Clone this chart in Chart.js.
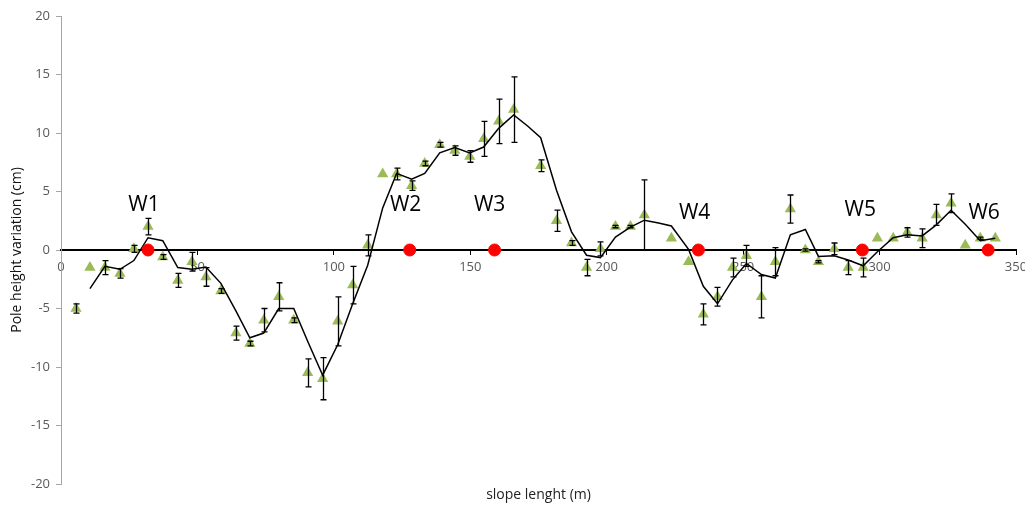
<!DOCTYPE html>
<html>
<head>
<meta charset="utf-8">
<script src="https://cdn.jsdelivr.net/npm/chart.js@4/dist/chart.umd.min.js"></script>
<style>
  html, body { margin: 0; padding: 0; background: #fff; }
  #wrap { width: 1025px; height: 505px; }
</style>
</head>
<body>
<div id="wrap"><canvas id="grafico" width="1025" height="505"></canvas></div>
<script>
/** datos de los postes (triangulos verdes) */
const poleX = [5.5, 10.6, 16.1, 21.6, 26.7, 31.9, 37.3, 42.8, 48.0, 53.1, 58.6, 64.1, 69.2, 74.3, 79.8, 85.3,
  90.4, 95.9, 101.4, 106.9, 112.4, 117.9, 123.0, 128.5, 133.3, 138.8, 144.3, 149.8, 154.9, 160.4, 165.9,
  175.8, 181.6, 187.1, 192.6, 197.7, 203.2, 208.7, 213.8, 223.7, 230.0, 235.4, 240.6, 246.1, 251.2, 256.7,
  261.8, 267.3, 272.8, 277.6, 283.4, 288.5, 294.0, 299.2, 305.0, 310.1, 315.6, 320.8, 326.2, 331.4, 336.9, 342.4]
const poleY = [-5.0, -1.5, -1.5, -2.0, 0.1, 2.0, -0.6, -2.6, -1.0, -2.3, -3.5, -7.1, -8.0, -6.0, -4.0, -6.0,
  -10.5, -11.0, -6.1, -3.0, 0.4, 6.5, 6.5, 5.5, 7.4, 9.0, 8.5, 8.0, 9.5, 11.0, 12.0,
  7.2, 2.5, 0.6, -1.5, 0.1, 2.0, 2.0, 3.0, 1.0, -1.0, -5.5, -4.0, -1.5, -0.5, -4.0,
  -1.0, 3.5, 0.0, -1.0, 0.1, -1.5, -1.5, 1.0, 1.0, 1.5, 1.0, 3.0, 4.0, 0.4, 1.0, 1.0]
const poleErr = [0.4, 0, 0.6, 0.4, 0.3, 0.7, 0.2, 0.6, 0.8, 0.8, 0.2, 0.6, 0.2, 1.0, 1.2, 0.2,
  1.2, 1.8, 2.1, 1.6, 0.9, 0, 0.5, 0.4, 0.2, 0.2, 0.4, 0.5, 1.5, 1.9, 2.8,
  0.5, 0.9, 0.2, 0.7, 0.6, 0.1, 0.1, 3.0, 0, 0, 0.9, 0.8, 0.8, 0.9, 1.8,
  1.2, 1.2, 0.1, 0.1, 0.5, 0.6, 0.8, 0, 0, 0.4, 0.8, 0.9, 0.8, 0, 0.1, 0]

/** linea negra (promedio) */
const trendX = [10.6, 16.1, 21.6, 26.7, 31.9, 37.3, 42.8, 48.0, 53.1, 58.6, 64.1, 69.2, 74.3, 79.8, 85.3,
  90.4, 95.9, 101.4, 106.9, 112.4, 117.9, 123.0, 128.5, 133.3, 138.8, 144.3, 149.8, 154.9, 160.4, 165.9,
  171.0, 175.8, 181.6, 187.1, 192.6, 197.7, 203.2, 208.7, 213.8, 219.0, 223.7, 230.0, 235.4, 240.6, 246.1,
  251.2, 256.7, 261.8, 267.3, 272.8, 277.6, 283.4, 288.5, 294.0, 299.2, 305.0, 310.1, 315.6, 320.8, 326.2,
  331.4, 336.9, 342.4]
const trendY = [-3.3, -1.4, -1.65, -0.9, 1.05, 0.8, -1.5, -1.65, -1.45, -2.85, -5.2, -7.5, -7.1, -5.0, -5.0,
  -7.8, -10.7, -8.1, -4.6, -1.3, 3.6, 6.55, 6.05, 6.55, 8.3, 8.75, 8.3, 8.8, 10.4, 11.55,
  10.6, 9.6, 5.1, 1.55, -0.45, -0.65, 1.1, 1.95, 2.55, 2.3, 2.05, 0.05, -3.1, -4.6, -2.55,
  -1.15, -2.1, -2.4, 1.3, 1.75, -0.55, -0.5, -0.85, -1.35, -0.15, 1.05, 1.3, 1.2, 2.15, 3.4,
  2.2, 0.8, 1.0]

/** puntos rojos W1..W6 */
const wLabels = ["W1", "W2", "W3", "W4", "W5", "W6"]
const wX = [31.9, 127.8, 158.9, 233.6, 293.7, 339.8]
const wY = [0, 0, 0, 0, 0, 0]
const wTextX = [30.4, 126.3, 157.1, 232.2, 292.9, 338.3]
const wTextY = [3.85, 3.85, 3.85, 3.2, 3.4, 3.2]

/** ejes */
const xTicks = [0, 50, 100, 150, 200, 250, 300, 350]
const yTicks = [-20, -15, -10, -5, 0, 5, 10, 15, 20]
const xTitle = "slope lenght (m)"
const yTitle = "Pole height variation (cm)"

function toPoints(xs, ys) {
  let a = []
  for (let i = 0; i < xs.length; i++) {
    a.push({x: xs[i], y: ys[i]})
  }
  return a
}

/** barras de error + textos W */
const extras = {
  id: 'extras',
  afterDatasetDraw: function(chart, args) {
    if (args.index !== 2) return
    const ctx = chart.ctx
    const sx = chart.scales.x
    const sy = chart.scales.y
    ctx.save()
    ctx.strokeStyle = '#000'
    ctx.lineWidth = 1.3
    for (let i = 0; i < poleX.length; i++) {
      if (!poleErr[i]) continue
      const px = Math.round(sx.getPixelForValue(poleX[i])) + 0.5
      const top = sy.getPixelForValue(poleY[i] + poleErr[i])
      const bot = sy.getPixelForValue(poleY[i] - poleErr[i])
      ctx.beginPath()
      ctx.moveTo(px, top); ctx.lineTo(px, bot)
      ctx.moveTo(px - 3, top); ctx.lineTo(px + 3, top)
      ctx.moveTo(px - 3, bot); ctx.lineTo(px + 3, bot)
      ctx.stroke()
    }
    ctx.restore()
  },
  afterDraw: function(chart) {
    const ctx = chart.ctx
    const sx = chart.scales.x
    const sy = chart.scales.y
    ctx.save()
    ctx.fillStyle = '#000'
    ctx.font = '21px "Open Sans", sans-serif'
    ctx.textAlign = 'center'
    ctx.textBaseline = 'middle'
    for (let i = 0; i < wLabels.length; i++) {
      ctx.fillText(wLabels[i], sx.getPixelForValue(wTextX[i]), sy.getPixelForValue(wTextY[i]))
    }
    ctx.font = '14px "Open Sans", sans-serif'
    ctx.fillStyle = '#222'
    ctx.fillText(xTitle, (chart.chartArea.left + chart.chartArea.right) / 2, 495)
    ctx.restore()
  }
}

const ctx = document.getElementById("grafico").getContext('2d')
const grafico = new Chart(ctx, {
  type: 'scatter',
  data: {
    datasets: [{
      label: 'W',
      data: toPoints(wX, wY),
      pointStyle: 'circle',
      pointRadius: 6,
      backgroundColor: '#ff0000',
      borderColor: '#ff0000',
      pointHoverRadius: 6
    }, {
      type: 'line',
      label: 'media',
      data: toPoints(trendX, trendY),
      borderColor: '#000',
      borderWidth: 1.5,
      pointRadius: 0,
      fill: false,
      tension: 0
    }, {
      label: 'postes',
      data: toPoints(poleX, poleY),
      pointStyle: 'triangle',
      pointRadius: 6.5,
      backgroundColor: '#9bbb59',
      borderColor: '#9bbb59',
      borderWidth: 0
    }]
  },
  options: {
    responsive: false,
    animation: false,
    layout: { padding: { top: 16, right: 9, bottom: 21, left: 0 } },
    plugins: {
      legend: { display: false },
      tooltip: { enabled: false }
    },
    scales: {
      x: {
        type: 'linear',
        min: 0, max: 350,
        position: { y: 0 },
        afterBuildTicks: function(s) { s.ticks = xTicks.map(v => ({value: v})) },
        afterFit: function(s) { s.paddingRight = 0; s.paddingLeft = 0 },
        ticks: { color: '#595959', font: { size: 13, family: '"Open Sans", sans-serif' }, padding: 5 },
        grid: { display: true, drawOnChartArea: false, drawTicks: true, tickLength: 4, color: '#000', lineWidth: 1 },
        border: { display: true, color: '#000', width: 2 }
      },
      y: {
        type: 'linear',
        min: -20, max: 20,
        position: 'left',
        afterBuildTicks: function(s) { s.ticks = yTicks.map(v => ({value: v})) },
        afterFit: function(s) { s.width = 61 },
        ticks: { color: '#595959', font: { size: 13, family: '"Open Sans", sans-serif' }, padding: 6 },
        grid: { display: true, drawOnChartArea: false, drawTicks: true, tickLength: 5, color: '#a6a6a6' },
        border: { display: true, color: '#a6a6a6', width: 1 },
        title: { display: true, text: yTitle, color: '#111', font: { size: 14, family: '"Open Sans", sans-serif' }, padding: { top: 9, bottom: 0 } }
      }
    }
  },
  plugins: [extras]
})
</script>
</body>
</html>
